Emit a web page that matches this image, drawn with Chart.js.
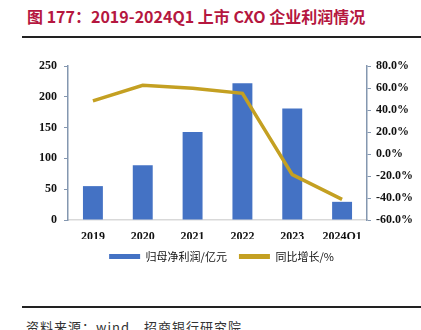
<!DOCTYPE html>
<html>
<head>
<meta charset="utf-8">
<script src="https://cdn.jsdelivr.net/npm/chart.js@4.4.1/dist/chart.umd.min.js"></script>
<style>
  body { margin: 0; background: #fff; width: 421px; height: 330px; overflow: hidden; position: relative; }
  .title { position: absolute; left: 27px; top: 4px; font: bold 16px "Noto Sans CJK SC", sans-serif; color: #b5173f; white-space: nowrap; }
  .rule { position: absolute; left: 22px; right: 0; height: 2px; background: #222; }
  .source { position: absolute; left: 26px; top: 317px; font: 13px "Noto Sans CJK SC", sans-serif; color: #333; white-space: nowrap; letter-spacing: 1px; }
  #wrap { position: absolute; left: 0; top: 40px; width: 421px; height: 240px; }
</style>
</head>
<body>
<div class="title">图 177：2019-2024Q1 上市 CXO 企业利润情况</div>
<div class="rule" style="top:36px"></div>
<div id="wrap"><canvas id="profitChart"></canvas></div>
<div class="rule" style="top:306px"></div>
<div class="source">资料来源：wind，招商银行研究院</div>

<script>
// data
const years = ["2019", "2020", "2021", "2022", "2023", "2024Q1"];
const netProfit = [55, 89, 143, 222, 181, 29.5];   // 归母净利润/亿元
const yoyGrowth = [48.3, 62.4, 59.8, 55.2, -18.8, -41.2]; // 同比增长/%

const blue = "#4472c4";
const gold = "#c4a022";
const tickFont = { family: "'Liberation Serif', serif", size: 12, weight: "bold" };

const ctx = document.getElementById("profitChart").getContext("2d");
const profitChart = new Chart(ctx, {
  data: {
    labels: years,
    datasets: [
      {
        type: "line",
        label: "同比增长/%",
        data: yoyGrowth,
        yAxisID: "y1",
        borderColor: gold,
        backgroundColor: gold,
        borderWidth: 3.5,
        pointRadius: 0,
        tension: 0,
        order: 0,
      },
      {
        type: "bar",
        label: "归母净利润/亿元",
        data: netProfit,
        yAxisID: "y",
        backgroundColor: blue,
        barPercentage: 0.4,
        categoryPercentage: 1,
        order: 1,
      },
    ],
  },
  options: {
    responsive: true,
    maintainAspectRatio: false,
    animation: false,
    layout: { padding: { top: 26, bottom: 8, left: 22 } },
    scales: {
      x: {
        grid: { display: false, drawTicks: false },
        border: { color: "#d9d9d9", width: 1.5 },
        ticks: { font: tickFont, color: "#111", padding: 10 },
        afterFit: (scale) => { scale.height = 19; },
      },
      y: {
        position: "left",
        min: 0,
        max: 250,
        ticks: { stepSize: 50, font: tickFont, color: "#111", padding: 7 },
        grid: { drawOnChartArea: false, tickLength: 4, color: "#8497b0" },
        border: { color: "#8497b0", width: 1.5 },
        afterFit: (scale) => { scale.width = 46; },
      },
      y1: {
        position: "right",
        min: -60,
        max: 80,
        ticks: {
          stepSize: 20,
          font: tickFont,
          color: "#111",
          padding: 5,
          callback: (v) => v.toFixed(1) + "%",
        },
        grid: { drawOnChartArea: false, tickLength: 4, color: "#8497b0" },
        border: { color: "#8497b0", width: 1.5 },
        afterFit: (scale) => { scale.width = 54; },
      },
    },
    plugins: {
      legend: {
        position: "bottom",
        reverse: true,
        labels: {
          boxWidth: 31,
          boxHeight: 5,
          padding: 12,
          color: "#111",
          font: { family: "'Noto Sans CJK SC', sans-serif", size: 11 },
          generateLabels: (chart) =>
            Chart.defaults.plugins.legend.labels.generateLabels(chart).map((item) => {
              item.lineWidth = 0;
              return item;
            }),
        },
      },
      tooltip: { enabled: false },
    },
  },
});
</script>
</body>
</html>
